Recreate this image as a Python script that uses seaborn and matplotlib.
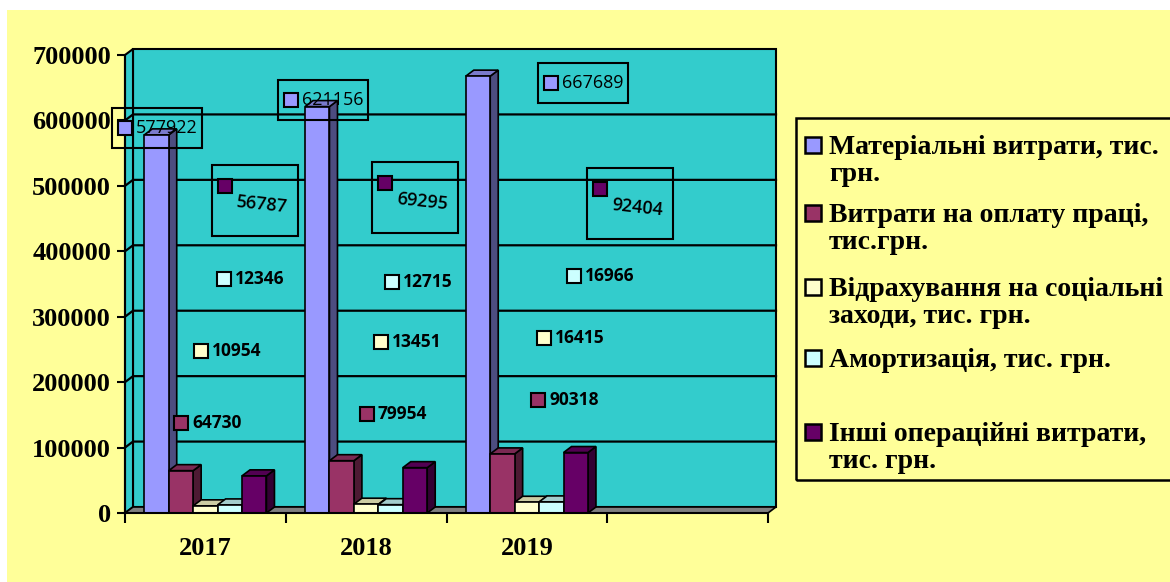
import numpy as np
import pandas as pd
import seaborn as sns
import matplotlib
matplotlib.use('Agg')
import matplotlib.pyplot as plt
import matplotlib.transforms as mtransforms
from matplotlib.patches import Rectangle, Polygon
from matplotlib.ticker import FuncFormatter

#========================================================================================================
# Data
#========================================================================================================

years = ['2017', '2018', '2019']
series = ['Матеріальні витрати, тис. грн.',
          'Витрати на оплату праці, тис.грн.',
          'Відрахування на соціальні заходи, тис. грн.',
          'Амортизація, тис. грн.',
          'Інші операційні витрати, тис. грн.']
legend_text = ['Матеріальні витрати, тис.\nгрн.',
               'Витрати на оплату праці,\nтис.грн.',
               'Відрахування на соціальні\nзаходи, тис. грн.',
               'Амортизація, тис. грн.',
               'Інші операційні витрати,\nтис. грн.']

material = [577922, 621156, 667689]
labor = [64730, 79954, 90318]
social = [10954, 13451, 16415]
amort = [12346, 12715, 16966]
other = [56787, 69295, 92404]

colors = ['#9999FF', '#993366', '#FFFFCC', '#CCFFFF', '#660066']

#========================================================================================================
# Layout settings (pixels)
#========================================================================================================

W, H = 1170, 582
DX, DY = 8, 6               # 3D depth of bars and walls
teal = '#33CCCC'

# data label marker positions (pixel, top-left origin), per series and year
label_px = [[(125, 128), (291, 100), (551, 83)],
            [(181, 423), (367, 414), (538, 400)],
            [(201, 351), (381, 342), (544, 338)],
            [(224, 279), (392, 282), (574, 276)],
            [(225, 186), (385, 183), (600, 189)]]
legend_y = [145, 213, 287, 358, 432]

def fig_xy(x, y):
    return (x / W, 1 - y / H)

#========================================================================================================
# Build figure
#========================================================================================================

values = [material, labor, social, amort, other]
rows = []
for s, vals in zip(series, values):
    for yr, v in zip(years, vals):
        rows.append({'year': yr, 'item': s, 'value': v})
df = pd.DataFrame(rows)

fig = plt.figure(figsize=(W / 100, H / 100), dpi=100)
fig.patch.set_facecolor('white')
fig.patches.append(Rectangle((7 / W, 0), 1, 1 - 10 / H, transform=fig.transFigure,
                             facecolor='#FFFF99', edgecolor='none', zorder=-10))

ax = fig.add_axes([125 / W, 1 - 513 / H, (768 - 125) / W, (513 - 55) / H])
ax.set_facecolor('none')

sns.barplot(data=df, x='year', y='value', hue='item', order=years, hue_order=series,
            palette=colors, saturation=1, width=0.76, edgecolor='black', linewidth=1.2,
            legend=False, ax=ax)
bars = sorted(ax.patches, key=lambda p: p.get_x())

ax.set_xlim(-0.5, 3.5)
ax.set_ylim(0, 700000)
ax.set_xlabel('')
ax.set_ylabel('')

#Ticks
serif = dict(family='Liberation Serif', weight='bold', size=19)
ax.set_yticks(np.arange(0, 700001, 100000))
ax.yaxis.set_major_formatter(FuncFormatter(lambda v, _: f'{int(v)}'))
for lab in ax.get_yticklabels():
    lab.set_fontproperties(matplotlib.font_manager.FontProperties(**serif))
ax.tick_params(axis='y', length=6, width=1.5, pad=4, direction='out')
ax.set_xticks([0, 1, 2])
ax.set_xticklabels(years, **serif)
ax.set_xticks([-0.5, 0.5, 1.5, 2.5, 3.5], minor=True)
ax.tick_params(axis='x', which='major', length=0, pad=17)
ax.tick_params(axis='x', which='minor', length=7, width=1.5, direction='out')

for side in ['top', 'right']:
    ax.spines[side].set_visible(False)
for side in ['left', 'bottom']:
    ax.spines[side].set_linewidth(1.5)
    ax.spines[side].set_zorder(200)

#========================================================================================================
# 3D walls, floor and gridlines (drawn in display coordinates)
#========================================================================================================

ident = mtransforms.IdentityTransform()
to_disp = ax.transData.transform

def add_poly(pts, **kw):
    poly = Polygon(pts, closed=True, transform=ident, clip_on=False, **kw)
    ax.add_artist(poly)

x0, x1 = ax.get_xlim()
y0, y1 = ax.get_ylim()
bl, tl = to_disp((x0, y0)), to_disp((x0, y1))
br, tr = to_disp((x1, y0)), to_disp((x1, y1))
off = np.array([DX, DY])

# back wall
add_poly([bl + off, br + off, tr + off, tl + off], facecolor=teal, edgecolor='black',
         linewidth=1.5, zorder=0.5)
# left wall
add_poly([bl, tl, tl + off, bl + off], facecolor=teal, edgecolor='black',
         linewidth=1.5, zorder=0.55)
# floor
add_poly([bl, br, br + off, bl + off], facecolor='#808080', edgecolor='black',
         linewidth=1.2, zorder=0.6)

# gridlines on back and left walls
for v in np.arange(100000, 700000, 100000):
    pl, pr = to_disp((x0, v)), to_disp((x1, v))
    ax.add_line(plt.Line2D([pl[0], pl[0] + DX, pr[0] + DX], [pl[1], pl[1] + DY, pr[1] + DY],
                           transform=ident, color='black', linewidth=1.6, zorder=0.7,
                           clip_on=False))

#3D faces of bars
def shade(c, f):
    rgb = np.array(matplotlib.colors.to_rgb(c))
    return tuple(rgb * f)

for i, p in enumerate(bars):
    bx0, by0 = to_disp((p.get_x(), p.get_y()))
    bx1, by1 = to_disp((p.get_x() + p.get_width(), p.get_y() + p.get_height()))
    fc = p.get_facecolor()
    z = 2 + 3 * i
    add_poly([(bx1, by0), (bx1 + DX, by0 + DY), (bx1 + DX, by1 + DY), (bx1, by1)],
             facecolor=shade(fc, 0.5), edgecolor='black', linewidth=1.2, zorder=z)
    add_poly([(bx0, by1), (bx1, by1), (bx1 + DX, by1 + DY), (bx0 + DX, by1 + DY)],
             facecolor=shade(fc, 0.8), edgecolor='black', linewidth=1.2, zorder=z + 1)
    p.set_zorder(z + 2)

#========================================================================================================
# Data labels
#========================================================================================================

for si, vals in enumerate(values):
    for yi, v in enumerate(vals):
        mx, my = label_px[si][yi]
        fig.add_artist(plt.Line2D([mx / W], [1 - my / H], marker='s', markersize=10,
                                  markerfacecolor=colors[si], markeredgecolor='black',
                                  markeredgewidth=1.5, linestyle='none', zorder=300))
        if si == 0:
            fig.patches.append(Rectangle(fig_xy(mx - 13, my + 20), 90 / W, 40 / H,
                                         transform=fig.transFigure, facecolor='none',
                                         edgecolor='black', linewidth=1.5, zorder=290))
            fig.text(*fig_xy(mx + 11, my), f'{v}', family='Open Sans', weight='medium',
                     size=13, ha='left', va='center', zorder=300)
        elif si == 4:
            fig.patches.append(Rectangle(fig_xy(mx - 13, my + 50), 86 / W, 71 / H,
                                         transform=fig.transFigure, facecolor='none',
                                         edgecolor='black', linewidth=1.5, zorder=290))
            fig.text(*fig_xy(mx + 37, my + 19), f'{v}', family='Open Sans', weight='semibold',
                     size=13, rotation=-6, ha='center', va='center', zorder=300)
        else:
            fig.text(*fig_xy(mx + 11, my), f'{v}', family='Open Sans', weight='bold',
                     size=12.5, ha='left', va='center', zorder=300)

#========================================================================================================
# Legend
#========================================================================================================

fig.patches.append(Rectangle(fig_xy(796, 480), 400 / W, (480 - 118) / H,
                             transform=fig.transFigure, facecolor='none',
                             edgecolor='black', linewidth=1.8, zorder=10))
for c, txt, ly in zip(colors, legend_text, legend_y):
    fig.add_artist(plt.Line2D([813 / W], [1 - ly / H], marker='s', markersize=12,
                              markerfacecolor=c, markeredgecolor='black',
                              markeredgewidth=1.8, linestyle='none'))
    fig.text(*fig_xy(829, ly - 10), txt, family='Liberation Serif', weight='bold',
             size=20, ha='left', va='top', linespacing=1.1)

plt.savefig('out.png', dpi=100, facecolor=fig.get_facecolor())
plt.close()
